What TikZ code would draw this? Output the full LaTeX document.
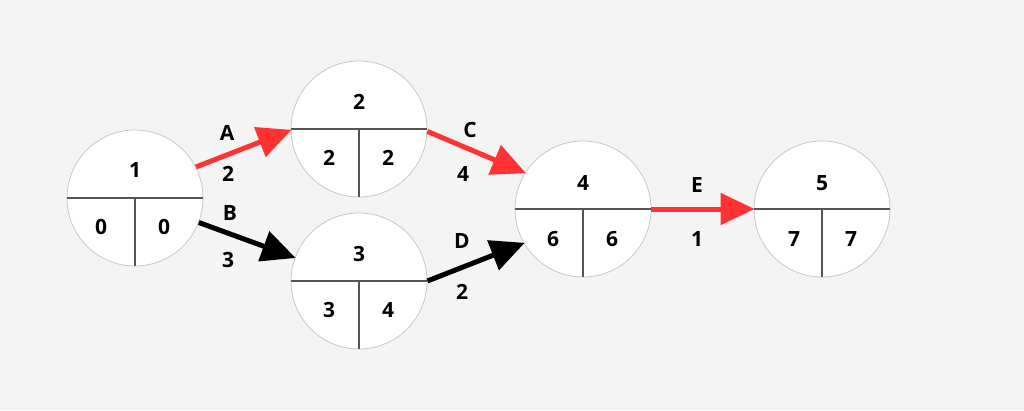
\documentclass[tikz,border=0pt]{standalone}
\usepackage{fontspec}
\setmainfont{Open Sans}
\usetikzlibrary{arrows.meta}
\definecolor{bg}{HTML}{F4F4F4}
\definecolor{cpred}{HTML}{FF3333}
\definecolor{rim}{HTML}{C8C8C8}
\definecolor{divider}{HTML}{555555}
\begin{document}
\begin{tikzpicture}[x=1pt,y=-1pt,
  event/.style={circle, minimum size=136pt, inner sep=0pt, fill=white, draw=rim, line width=0.8pt},
  divline/.style={draw=divider, line width=1.4pt},
  num/.style={font=\fontsize{21}{21}\selectfont\bfseries, inner sep=0pt, text=black},
  act/.style={line width=5pt, -{Triangle[length=34pt,width=31pt]}, shorten >=-1pt},
  crit/.style={act, draw=cpred, fill=cpred},
  norm/.style={act, draw=black, fill=black}]
\fill[bg] (0,0) rectangle (1024,410);
\useasboundingbox (0,0) rectangle (1024,410);

\node[event] (n1) at (135,198) {};
\node[event] (n2) at (359,129) {};
\node[event] (n3) at (359,281) {};
\node[event] (n4) at (583,209) {};
\node[event] (n5) at (822,209) {};

\foreach \n in {n1,n2,n3,n4,n5}{
  \draw[divline] (\n.west) -- (\n.east);
  \draw[divline] (\n.center) -- (\n.south);
}

% node numbers
\node[num] (t1) at (135,170) {1};
\node[num] (l1) at (101,227) {0};
\node[num] (r1) at (164,227) {0};
\node[num] (t2) at (359,102) {2};
\node[num] (l2) at (329,158) {2};
\node[num] (r2) at (388,158) {2};
\node[num] (t3) at (359,254) {3};
\node[num] (l3) at (329,310) {3};
\node[num] (r3) at (388,310) {4};
\node[num] (t4) at (583,183) {4};
\node[num] (l4) at (553,239) {6};
\node[num] (r4) at (612,239) {6};
\node[num] (t5) at (822,183) {5};
\node[num] (l5) at (794,239) {7};
\node[num] (r5) at (851,239) {7};

% activities
\draw[crit] (n1.27) -- (n2.181);
\draw[norm] (n1.-21) -- (n3.160);
\draw[crit] (n2.-2) -- (n4.148);
\draw[norm] (n3.0) -- (n4.210);
\draw[crit] (n4.east) -- (n5.west);

% activity labels
\node[num] (la) at (227,133) {A};
\node[num] (da) at (228,174) {2};
\node[num] (lb) at (230,213) {B};
\node[num] (db) at (228,260) {3};
\node[num] (lc) at (470,130) {C};
\node[num] (dc) at (463,174) {4};
\node[num] (ld) at (462,241) {D};
\node[num] (dd) at (462,292) {2};
\node[num] (le) at (697,185) {E};
\node[num] (de) at (697,239) {1};
\end{tikzpicture}
\end{document}
